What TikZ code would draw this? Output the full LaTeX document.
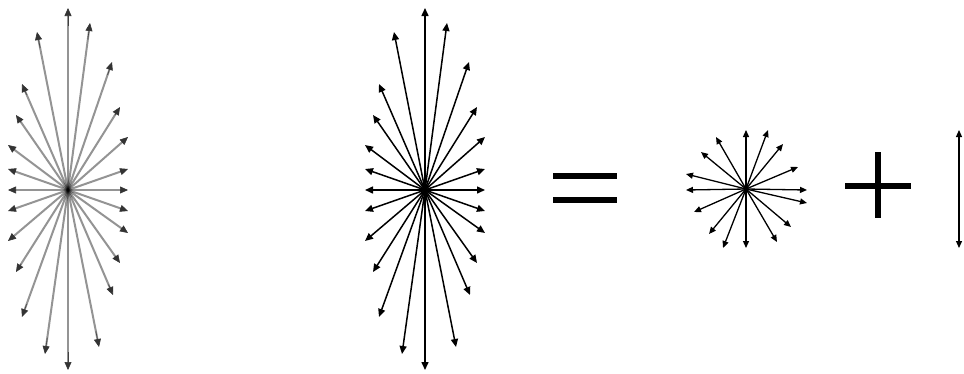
\documentclass[tikz,border=0pt]{standalone}
\usetikzlibrary{arrows.meta}
\begin{document}
\begin{tikzpicture}[x=1pt,y=-1pt,
  ray/.style={line width=1.5pt,-{Triangle[length=8pt,width=7pt]}},
  grayline/.style={line width=2pt,draw=black,draw opacity=0.42},
  graytip/.style={line width=0.6pt,draw=black!75,-{Triangle[length=8pt,width=7pt,color=black!80]}},
  smallray/.style={line width=1.3pt,-{Triangle[length=7pt,width=6pt]}},
  bar/.style={fill=black,draw=none}]
\useasboundingbox (0,0) rectangle (964,373);
\coordinate (cL) at (68,190);
\coordinate (cM) at (425,190);
\coordinate (cS) at (746,189);
\def\bigstar{0/-182,0/180,22/-167,44/-128,52/-83,60/-53,60/-21,60/0,60/21,60/43,52/73,45/105,31/157,-31/-158,-46/-106,-52/-75,-60/-45,-60/-21,-60/0,-60/21,-60/51,-52/82,-46/127,-23/164}
% left (gray) starburst
\foreach \dx/\dy in \bigstar {
  \draw[grayline] (cL) -- ++(0.96*\dx,0.96*\dy);
  \draw[graytip] (cL) ++(0.9*\dx,0.9*\dy) -- ++(0.1*\dx,0.1*\dy);
}
% middle starburst
\foreach \dx/\dy in \bigstar {
  \draw[ray] (cM) -- ++(\dx,\dy);
}
% equals sign
\fill[bar] (553,173) rectangle (617,179);
\fill[bar] (553,197) rectangle (617,203);
% small starburst
\foreach \dx/\dy in {0/-59,0/59,22/-59,37/-45,52/-22,61/1,61/14,45/38,31/53,-23/59,-37/45,-52/23,-60/1,-60/-15,-45/-37,-30/-52} {
  \draw[smallray] (cS) -- ++(\dx,\dy);
}
% plus sign
\fill[bar] (845,183) rectangle (911,189);
\fill[bar] (875,152) rectangle (881,218);
% vertical double arrow
\coordinate (vT) at (959,130);
\coordinate (vB) at (959,248);
\draw[line width=1.2pt,{Triangle[length=7pt,width=6pt]}-{Triangle[length=7pt,width=6pt]}] (vT) -- (vB);
\end{tikzpicture}
\end{document}
